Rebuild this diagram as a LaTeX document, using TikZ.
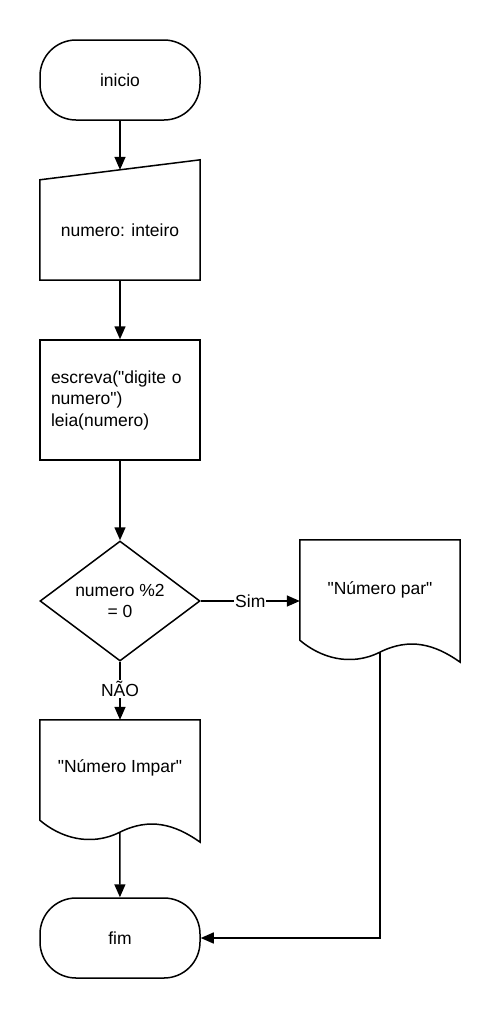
\documentclass[tikz,border=0pt]{standalone}
\usepackage{fontspec}
\newfontfamily\arialfont{Liberation Sans}
\usepackage{tikz}
\usetikzlibrary{arrows.meta,calc,positioning,shapes.geometric}

\begin{document}
\begin{tikzpicture}[
  x=1pt, y=1pt,
  every node/.style={font=\arialfont\fontsize{17.5}{21.5}\selectfont},
  terminal/.style={draw, line width=1.5pt, rounded corners=36pt,
                   minimum width=160pt, minimum height=80pt},
  process/.style={draw, line width=1.5pt, minimum width=160pt,
                  minimum height=120pt, align=left, text width=138pt},
  decision/.style={diamond, draw, line width=1.5pt, minimum width=160pt,
                   minimum height=120pt, inner sep=0pt, aspect=1.33, align=center},
  docbox/.style={minimum width=160pt, minimum height=100pt, inner sep=0pt},
  outline/.style={line width=1.5pt, line join=miter},
  flow/.style={line width=1.5pt, -{Triangle[length=13pt, width=11pt]}},
  edgelabel/.style={fill=white, inner sep=1pt},
]
  \useasboundingbox (0,0) rectangle (500,-1018);

  % Start and input --------------------------------------------------------
  \node[terminal] (inicio) at (120,-80) {inicio};
  \node[docbox, minimum height=100pt] (entrada) at (120,-230) {numero: inteiro};
  \draw[outline] (entrada.south west) -- (entrada.north west)
    -- ($(entrada.north east)+(0,20)$) -- (entrada.south east) -- cycle;
  \coordinate (entrada-top) at ($(entrada.north)+(0,10)$);

  % Read the number ---------------------------------------------------------
  \node[process] (leitura) at (120,-400)
    {escreva("digite o\\numero")\\leia(numero)};

  % Test --------------------------------------------------------------------
  \node[decision] (teste) at (120,-601) {numero \%2\\= 0};

  % Outputs -----------------------------------------------------------------
  \node[docbox] (par) at (380,-590) {"Número par"};
  \draw[outline] (par.south west) -- (par.north west) -- (par.north east)
    -- ($(par.south east)+(0,-22)$)
    .. controls ($(par.south west)+(135,-4)$) and ($(par.south west)+(110,3)$)
    .. ($(par.south west)+(80,-12)$)
    .. controls ($(par.south west)+(50,-27)$) and ($(par.south west)+(20,-17)$)
    .. cycle;
  \coordinate (par-bot) at ($(par.south west)+(80,-12)$);

  \node[docbox] (impar) at (120,-768) {"Número Impar"};
  \draw[outline] ($(impar.south west)+(0,-2)$) -- ($(impar.north west)+(0,-2)$)
    -- ($(impar.north east)+(0,-2)$) -- ($(impar.south east)+(0,-24)$)
    .. controls ($(impar.south west)+(135,-6)$) and ($(impar.south west)+(110,1)$)
    .. ($(impar.south west)+(80,-14)$)
    .. controls ($(impar.south west)+(50,-29)$) and ($(impar.south west)+(20,-19)$)
    .. cycle;
  \coordinate (impar-top) at ($(impar.north)+(0,-2)$);
  \coordinate (impar-bot) at ($(impar.south west)+(80,-14)$);

  % End ---------------------------------------------------------------------
  \node[terminal] (fim) at (120,-938) {fim};

  % Connectors --------------------------------------------------------------
  \draw[flow] (inicio) -- (entrada-top);
  \draw[flow] (entrada) -- (leitura);
  \draw[flow] (leitura) -- (teste);
  \draw[flow] (teste.east) -- node[edgelabel] {Sim} (teste.east -| par.west);
  \draw[flow] (teste) -- node[edgelabel, pos=0.47] {NÃO} (impar-top);
  \draw[flow] (impar-bot) -- (fim);
  \draw[flow] (par-bot) |- (fim);
\end{tikzpicture}
\end{document}
